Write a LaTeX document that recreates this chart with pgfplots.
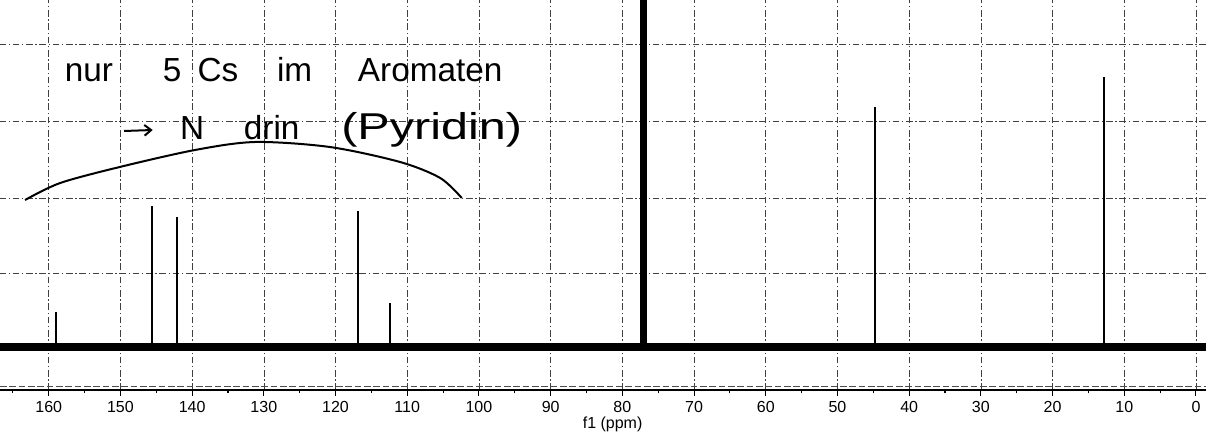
\documentclass[border=0pt]{standalone}
\usepackage{fontspec}
\setmainfont{Liberation Sans}
\newfontfamily\sym{DejaVu Sans}
\usepackage{pgfplots}
\pgfplotsset{compat=1.18}
\usetikzlibrary{calc,arrows.meta}

\begin{document}
\begin{tikzpicture}
\begin{axis}[
 scale only axis,
 width=904.5pt, height=292.5pt,
 x dir=reverse,
 xmin=-1.4, xmax=166.8,
 ymin=-43, ymax=347,
 axis x line=bottom,
 axis y line=left,
 x axis line style={-, line width=0.8pt},
 y axis line style={draw=none},
 ytick={-2.5,74,149,226,303},
 yticklabels={},
 ytick style={draw=none},
 xtick={0,10,...,160},
 minor xtick={5,15,...,165},
 tick align=outside,
 major tick length=4.5pt,
 minor tick length=2.5pt,
 xtick style={black, line width=0.8pt},
 xmajorgrids, ymajorgrids,
 grid style={black!75, line width=0.5pt, dash pattern=on 5pt off 2pt on 1pt off 2pt},
 /pgf/number format/assume math mode=true,
 xticklabel style={font=\fontsize{12}{13}\selectfont, yshift=-0.5pt},
 xlabel={f1 (ppm)},
 xlabel style={font=\fontsize{12}{13}\selectfont, at={(axis description cs:0.508,0)}, anchor=center, yshift=-26pt},
]
% baseline noise band
\addplot[black, line width=6pt, no marks] coordinates {(166.8,0) (-1.4,0)};
% lower dashed frame line
\addplot[black!70, line width=0.6pt, dash pattern=on 5pt off 2pt, no marks] coordinates {(166.8,-39) (-1.4,-39)};
% peaks
\addplot[ycomb, black, line width=1.4pt, no marks] coordinates {
 (159.0,35) (145.6,141) (142.1,130) (116.9,136) (112.4,44) (44.8,240) (12.8,270)};
% CDCl3 triplet
\addplot[ycomb, black, line width=2pt, no marks] coordinates {
 (77.34,420) (77.02,420) (76.70,420)};
% handwritten arc
\addplot[black, line width=1.5pt, smooth, no marks] coordinates {
 (163.3,147) (158.4,164) (150.1,180) (139.6,197) (131.2,205) (120.8,200) (111.0,185) (105.4,169) (102.4,149)};
% handwritten notes
\node[font=\fontsize{25}{25}\selectfont, anchor=base] at (axis cs:154.4,265) {nur};
\node[font=\fontsize{25}{25}\selectfont, anchor=base] at (axis cs:142.8,265) {5};
\node[font=\fontsize{25}{25}\selectfont, anchor=base] at (axis cs:136.4,265) {Cs};
\node[font=\fontsize{25}{25}\selectfont, anchor=base] at (axis cs:125.7,265) {im};
\node[font=\fontsize{25}{25}\selectfont, anchor=base] at (axis cs:106.8,265) {Aromaten};
\draw[line width=1.5pt, -{Straight Barb[length=5pt,width=8pt]}] (axis cs:149.5,216) -- (axis cs:145.5,217);
\node[font=\fontsize{25}{25}\selectfont, anchor=base] at (axis cs:140.0,207) {N};
\node[font=\fontsize{25}{25}\selectfont, anchor=base] at (axis cs:128.9,207) {drin};
\node[font=\fontsize{28}{28}\selectfont, anchor=base, xscale=1.3] at (axis cs:106.6,207) {(Pyridin)};
\coordinate (bl) at (axis cs:166.8,-43);
\coordinate (tr) at (axis cs:-1.4,347);
\end{axis}
\pgfresetboundingbox
\path[use as bounding box] ($(bl)+(0,-36.75pt)$) rectangle ($(tr)+(4.5pt,0)$);
\end{tikzpicture}
\end{document}
